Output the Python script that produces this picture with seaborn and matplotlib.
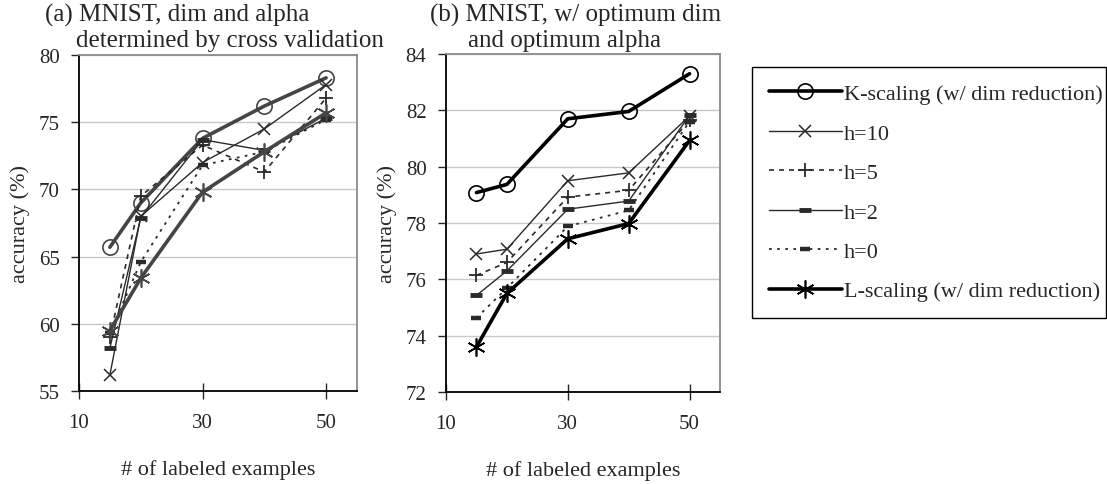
import numpy as np
import pandas as pd
import seaborn as sns
import matplotlib.pyplot as plt

# data
n_labeled = [15, 20, 30, 40, 50]
series_names = ["K-scaling (w/ dim reduction)", "h=10", "h=5", "h=2", "h=0",
                "L-scaling (w/ dim reduction)"]

# (a) dim and alpha by cross validation
acc_a_k = [65.7, 69.0, 73.8, 76.2, 78.3]
acc_a_h10 = [56.2, 68.0, 72.0, 74.5, 77.8]
acc_a_h5 = [59.0, 69.5, 73.3, 71.3, 76.8]
acc_a_h2 = [58.2, 67.9, 73.7, 72.9, 75.3]
acc_a_h0 = [59.3, 64.6, 71.8, 72.8, 75.2]
acc_a_l = [59.5, 63.4, 69.8, 72.8, 75.7]

# (b) optimum dim and optimum alpha
acc_b_k = [79.08, 79.37, 81.70, 81.96, 83.30]
acc_b_h10 = [76.90, 77.07, 79.50, 79.78, 81.80]
acc_b_h5 = [76.14, 76.60, 78.92, 79.16, 81.65]
acc_b_h2 = [75.43, 76.30, 78.49, 78.78, 81.82]
acc_b_h0 = [74.63, 75.69, 77.88, 78.45, 81.60]
acc_b_l = [73.60, 75.50, 77.44, 77.98, 80.93]

sns.set_style("white")
plt.rcParams['font.family'] = ['Liberation Serif', 'DejaVu Serif']

W, H = 1107, 485
fig = plt.figure(figsize=(W / 100, H / 100), dpi=100)


def px_axes(left, top, right, bottom):
    return fig.add_axes([left / W, 1 - bottom / H, (right - left) / W, (bottom - top) / H])


ax_a = px_axes(79, 56, 357, 392)
ax_b = px_axes(446, 55, 720, 393)

thin = '#2a2a2a'


def styles(main):
    return [
        dict(color=main, linewidth=2.6, linestyle='-', marker='o', markersize=11,
             markerfacecolor='none', markeredgecolor=main, markeredgewidth=1.2),
        dict(color=thin, linewidth=1.0, linestyle='-', marker='x', markersize=9,
             markeredgewidth=1.1, markeredgecolor=thin),
        dict(color=thin, linewidth=1.2, linestyle=(0, (3, 3)), marker='+', markersize=10,
             markeredgewidth=1.3, markeredgecolor=thin),
        dict(color=thin, linewidth=1.0, linestyle='-', marker='_', markersize=9,
             markeredgewidth=3.5, markeredgecolor=thin),
        dict(color=thin, linewidth=1.3, linestyle=(0, (1.5, 3)), marker='_', markersize=7,
             markeredgewidth=3.2, markeredgecolor=thin),
        dict(color=main, linewidth=2.6, linestyle='-', marker=(6, 2, 0), markersize=13,
             markeredgewidth=1.2, markeredgecolor=main),
    ]


panels = [
    (ax_a, [acc_a_k, acc_a_h10, acc_a_h5, acc_a_h2, acc_a_h0, acc_a_l], '#454545',
     (55, 80), [55, 60, 65, 70, 75, 80]),
    (ax_b, [acc_b_k, acc_b_h10, acc_b_h5, acc_b_h2, acc_b_h0, acc_b_l], '#000000',
     (72, 84), [72, 74, 76, 78, 80, 82, 84]),
]

for ax, values, main, ylim, yticks in panels:
    for name, vals, st in zip(series_names, values, styles(main)):
        df = pd.DataFrame({'n': n_labeled, 'acc': vals})
        sns.lineplot(data=df, x='n', y='acc', ax=ax, label=name, legend=False, **st)
    ax.set_xlim(10, 55)
    ax.set_ylim(*ylim)
    ax.set_xticks([10, 30, 50])
    ax.set_yticks(yticks)
    ax.grid(axis='y', color='#c8c8c8', linewidth=1)
    ax.set_axisbelow(True)
    for s in ['left', 'bottom']:
        ax.spines[s].set_color('black')
        ax.spines[s].set_linewidth(1.3)
    for s in ['top', 'right']:
        ax.spines[s].set_color('#8a8a8a')
        ax.spines[s].set_linewidth(1.3)
    ax.tick_params(axis='y', direction='out', length=6, width=1, left=True, labelsize=15, pad=8)
    ax.tick_params(axis='x', direction='inout', length=12, width=1, bottom=True, labelsize=15, pad=10)
    ax.set_xlabel('# of labeled examples', fontsize=16, labelpad=19)
    ax.set_ylabel('accuracy (%)', fontsize=16, labelpad=6)

fig.text(45 / W, 1 - 22 / H, '(a) MNIST, dim and alpha', fontsize=18, va='baseline', ha='left')
fig.text(76 / W, 1 - 47 / H, 'determined by cross validation', fontsize=18, va='baseline', ha='left')
fig.text(430 / W, 1 - 22 / H, '(b) MNIST, w/ optimum dim', fontsize=18, va='baseline', ha='left')
fig.text(468 / W, 1 - 47 / H, 'and optimum alpha', fontsize=18, va='baseline', ha='left')

handles, labels = ax_b.get_legend_handles_labels()
leg = fig.legend(handles, labels, loc='upper left',
                 bbox_to_anchor=(752 / W, 1 - 68 / H, (1106 - 752) / W, 0),
                 mode='expand', fontsize=16, frameon=True, fancybox=False,
                 edgecolor='black', framealpha=1, handlelength=3.3, handletextpad=0.1,
                 labelspacing=0.85, borderpad=0.75, borderaxespad=0)
leg.get_frame().set_linewidth(1.0)

fig.savefig('out.png', dpi=100)
